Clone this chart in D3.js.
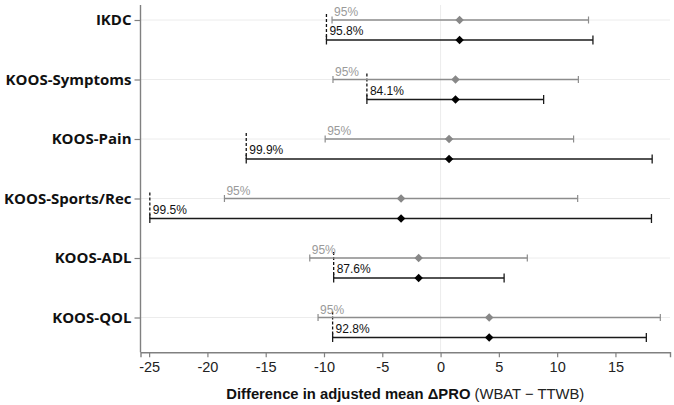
<!DOCTYPE html>
<html lang="en">
  <head>
    <meta charset="UTF-8" />
    <title>Difference in adjusted mean PRO</title>
    <script src="https://d3js.org/d3.v7.min.js"></script>
    <style>
      html,
      body {
        margin: 0;
        padding: 0;
        background: #ffffff;
      }
    </style>
  </head>
  <body>
    <div id="viz"></div>
    <script>
      // values
      const categories = [
        "IKDC",
        "KOOS-Symptoms",
        "KOOS-Pain",
        "KOOS-Sports/Rec",
        "KOOS-ADL",
        "KOOS-QOL",
      ];
      const means = [1.63, 1.28, 0.73, -3.39, -1.88, 4.17];
      const ci95Low = [-9.31, -9.23, -9.9, -18.54, -11.22, -10.51];
      const ci95High = [12.69, 11.82, 11.41, 11.76, 7.44, 18.85];
      const ciAdjLow = [-9.79, -6.32, -16.67, -24.94, -9.17, -9.26];
      const ciAdjHigh = [13.07, 8.84, 18.15, 18.09, 5.45, 17.65];
      const ciAdjLabels = ["95.8%", "84.1%", "99.9%", "99.5%", "87.6%", "92.8%"];
      const xTicks = [-25, -20, -15, -10, -5, 0, 5, 10, 15];

      const width = 674;
      const height = 405;
      const margin = { top: 5, right: 4, bottom: 53, left: 140.5 };

      const rows = categories.map((c, i) => ({
        name: c,
        mean: means[i],
        lo95: ci95Low[i],
        hi95: ci95High[i],
        loAdj: ciAdjLow[i],
        hiAdj: ciAdjHigh[i],
        label: ciAdjLabels[i],
      }));

      const svg = d3
        .select("#viz")
        .append("svg")
        .attr("width", width)
        .attr("height", height);

      const x = d3
        .scaleLinear()
        .domain([-25.74, 19.68])
        .range([margin.left, width - margin.right]);

      const y = d3.scalePoint().domain(categories).range([20, 317.5]);
      const offset = 20; // black row sits under the grey one
      const bottom = height - margin.bottom + 0.3;

      // grid
      svg
        .selectAll("line.hgrid")
        .data(categories)
        .join("line")
        .attr("class", "hgrid")
        .attr("x1", margin.left)
        .attr("x2", width - margin.right)
        .attr("y1", (d) => y(d))
        .attr("y2", (d) => y(d))
        .attr("stroke", "#ececec")
        .attr("stroke-width", 1);

      svg
        .append("line")
        .attr("x1", x(0))
        .attr("x2", x(0))
        .attr("y1", margin.top)
        .attr("y2", bottom)
        .attr("stroke", "#ececec")
        .attr("stroke-width", 1);

      // axes
      const xAxis = svg
        .append("g")
        .attr("transform", `translate(0,${bottom})`)
        .call(
          d3
            .axisBottom(x)
            .tickValues(xTicks)
            .tickSize(5)
            .tickPadding(4)
            .tickFormat((d) => String(d))
        );
      xAxis.select(".domain").attr("stroke", "#808080").attr("stroke-width", 1.4);
      xAxis.selectAll(".tick line").attr("stroke", "#808080").attr("stroke-width", 1.2);
      xAxis
        .selectAll(".tick text")
        .attr("fill", "#222")
        .style("font-family", "'Liberation Sans', Arial, sans-serif")
        .style("font-size", "14.5px");

      const yAxis = svg
        .append("g")
        .attr("transform", `translate(${margin.left},0)`)
        .call(d3.axisLeft(y).tickSize(6).tickPadding(3).tickSizeOuter(0));
      yAxis.select(".domain").attr("stroke", "#808080").attr("stroke-width", 1.4);
      yAxis.selectAll(".tick line").attr("stroke", "#808080").attr("stroke-width", 1.2);
      yAxis
        .selectAll(".tick text")
        .attr("fill", "#111")
        .style("font-family", "'Open Sans', sans-serif")
        .style("font-weight", "bold")
        .style("font-size", "15px");
      // stretch the y axis line from the top to the x axis
      yAxis.select(".domain").attr("d", `M0,${margin.top}V${bottom}`);

      // x axis title
      const title = svg
        .append("text")
        .attr("x", (margin.left + width - margin.right) / 2)
        .attr("y", 399)
        .attr("text-anchor", "middle")
        .style("font-family", "'Liberation Sans', Arial, sans-serif")
        .style("font-size", "14.8px")
        .attr("fill", "#111");
      title.append("tspan").attr("font-weight", "bold").text("Difference in adjusted mean ΔPRO");
      title.append("tspan").attr("font-weight", "normal").attr("fill", "#222").text(" (WBAT − TTWB)");

      const g = svg.append("g");

      // dashed reference at the lower bound of the adjusted CI
      g.selectAll("line.ref")
        .data(rows)
        .join("line")
        .attr("class", "ref")
        .attr("x1", (d) => x(d.loAdj))
        .attr("x2", (d) => x(d.loAdj))
        .attr("y1", (d) => y(d.name) - 6)
        .attr("y2", (d) => y(d.name) + offset)
        .attr("stroke", "#111")
        .attr("stroke-width", 1.3)
        .attr("stroke-dasharray", "3,2");

      // grey 95% CI
      g.selectAll("line.ci95")
        .data(rows)
        .join("line")
        .attr("class", "ci95")
        .attr("x1", (d) => x(d.lo95))
        .attr("x2", (d) => x(d.hi95))
        .attr("y1", (d) => y(d.name))
        .attr("y2", (d) => y(d.name))
        .attr("stroke", "#8c8c8c")
        .attr("stroke-width", 1.5);

      ["lo95", "hi95"].forEach((k) => {
        g.selectAll("line.cap" + k)
          .data(rows)
          .join("line")
          .attr("class", "cap" + k)
          .attr("x1", (d) => x(d[k]))
          .attr("x2", (d) => x(d[k]))
          .attr("y1", (d) => y(d.name) - 3.5)
          .attr("y2", (d) => y(d.name) + 3.5)
          .attr("stroke", "#8c8c8c")
          .attr("stroke-width", 1.2);
      });

      // black adjusted CI
      g.selectAll("line.ciAdj")
        .data(rows)
        .join("line")
        .attr("class", "ciAdj")
        .attr("x1", (d) => x(d.loAdj))
        .attr("x2", (d) => x(d.hiAdj))
        .attr("y1", (d) => y(d.name) + offset)
        .attr("y2", (d) => y(d.name) + offset)
        .attr("stroke", "#1a1a1a")
        .attr("stroke-width", 1.6);

      ["loAdj", "hiAdj"].forEach((k) => {
        g.selectAll("line.cap" + k)
          .data(rows)
          .join("line")
          .attr("class", "cap" + k)
          .attr("x1", (d) => x(d[k]))
          .attr("x2", (d) => x(d[k]))
          .attr("y1", (d) => y(d.name) + offset - 4.5)
          .attr("y2", (d) => y(d.name) + offset + 4.5)
          .attr("stroke", "#1a1a1a")
          .attr("stroke-width", 1.3);
      });

      // diamonds
      const diamond = d3.symbol().type(d3.symbolDiamond2).size(46);
      g.selectAll("path.m95")
        .data(rows)
        .join("path")
        .attr("class", "m95")
        .attr("d", diamond)
        .attr("transform", (d) => `translate(${x(d.mean)},${y(d.name)})`)
        .attr("fill", "#888888");

      g.selectAll("path.mAdj")
        .data(rows)
        .join("path")
        .attr("class", "mAdj")
        .attr("d", diamond)
        .attr("transform", (d) => `translate(${x(d.mean)},${y(d.name) + offset})`)
        .attr("fill", "#000000");

      // labels
      g.selectAll("text.l95")
        .data(rows)
        .join("text")
        .attr("class", "l95")
        .attr("x", (d) => x(d.lo95) + 2)
        .attr("y", (d) => y(d.name) - 4)
        .attr("fill", "#9a9a9a")
        .style("font-family", "'Liberation Sans', Arial, sans-serif")
        .style("font-size", "12px")
        .text("95%");

      g.selectAll("text.lAdj")
        .data(rows)
        .join("text")
        .attr("class", "lAdj")
        .attr("x", (d) => x(d.loAdj) + 3)
        .attr("y", (d) => y(d.name) + offset - 5)
        .attr("fill", "#111")
        .style("font-family", "'Liberation Sans', Arial, sans-serif")
        .style("font-size", "12px")
        .text((d) => d.label);
    </script>
  </body>
</html>
